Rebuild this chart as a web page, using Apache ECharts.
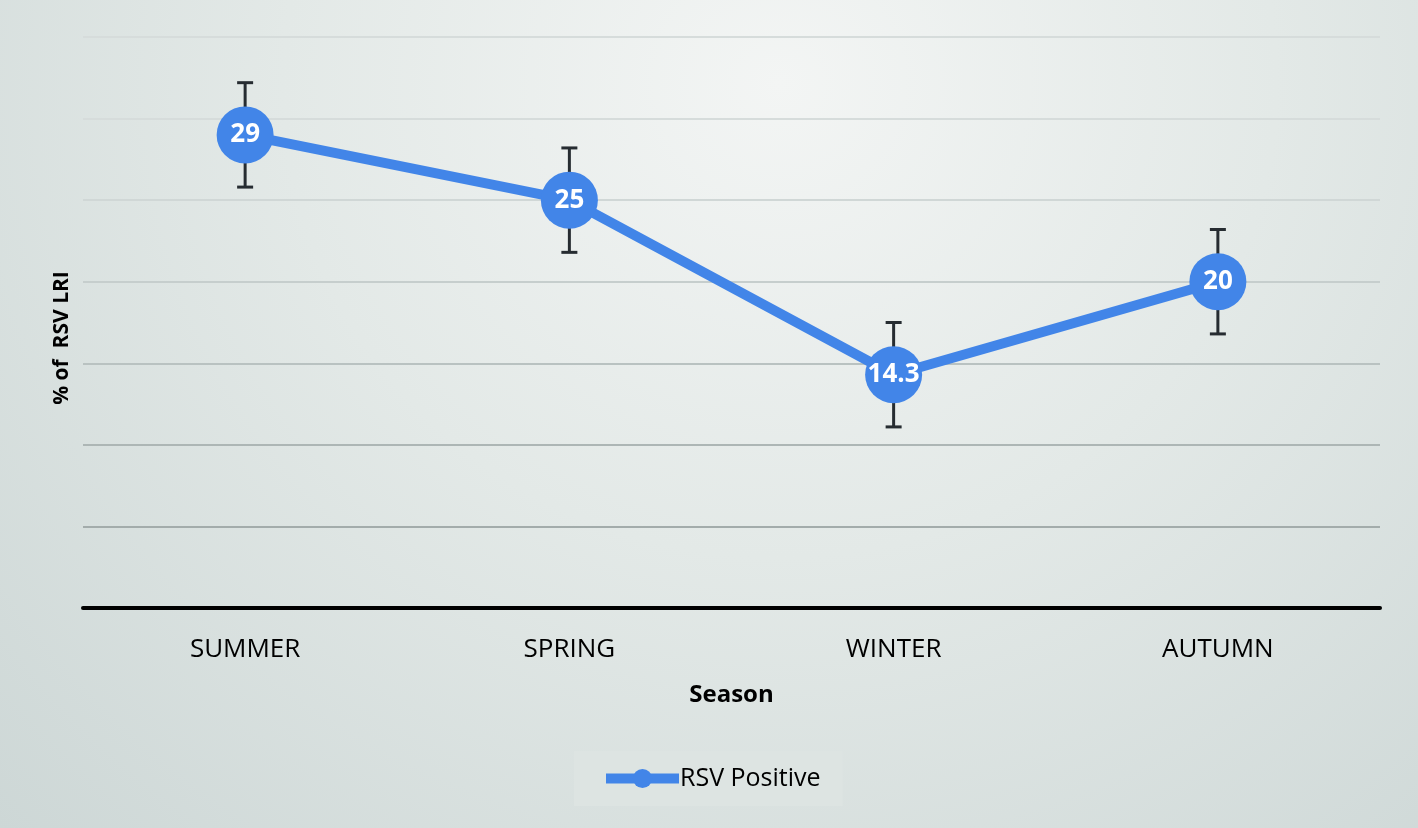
<!DOCTYPE html>
<html>
<head>
<meta charset="utf-8">
<script src="https://cdn.jsdelivr.net/npm/echarts@6/dist/echarts.min.js"></script>
<style>
html,body{margin:0;padding:0;}
#c{width:1418px;height:828px;background:radial-gradient(ellipse at 55% 10%, #f3f5f4 0%, #e3e9e7 45%, #cdd7d6 100%);}
</style>
</head>
<body>
<div id="c"></div>
<script>
var categories = ['SUMMER', 'SPRING', 'WINTER', 'AUTUMN'];
var values = [29, 25, 14.3, 20];
var errLow = [25.8, 21.8, 11.1, 16.8];
var errHigh = [32.2, 28.2, 17.5, 23.2];
var seriesName = 'RSV Positive';
var yAxisTitle = '% of  RSV LRI';
var xAxisTitle = 'Season';

var chart = echarts.init(document.getElementById('c'));
var gridColors = ['#9aa3a2', '#a3acab', '#adb6b5', '#b9c2c1', '#c6cecd', '#d0d7d6', '#d6dcdb', '#d6dcdb'];
var option = {
  backgroundColor: 'transparent',
  textStyle: {fontFamily: 'Open Sans'},
  grid: {left: 83, right: 38, top: 37, bottom: 220, containLabel: false},
  graphic: [{
    type: 'text',
    x: 62, y: 338,
    rotation: Math.PI / 2,
    style: {text: yAxisTitle, fontSize: 21, fontWeight: 'bold', fill: '#000', fontFamily: 'Open Sans', align: 'center', verticalAlign: 'middle'}
  }],
  xAxis: {
    type: 'category',
    data: categories,
    boundaryGap: true,
    name: xAxisTitle,
    nameLocation: 'middle',
    nameGap: 75,
    nameTextStyle: {fontSize: 24, fontWeight: 'bold', color: '#000', fontFamily: 'Open Sans'},
    axisLine: {lineStyle: {color: '#000', width: 4}},
    axisTick: {show: false},
    axisLabel: {fontSize: 26, color: '#000', margin: 29, fontFamily: 'Open Sans'}
  },
  yAxis: {
    type: 'value',
    min: 0, max: 35, interval: 5,
    axisLine: {show: false},
    axisTick: {show: false},
    axisLabel: {show: false},
    splitLine: {lineStyle: {color: gridColors, width: 2}}
  },
  legend: {
    top: 751,
    left: 574,
    data: [seriesName],
    backgroundColor: '#dde4e2',
    padding: [15, 22, 15, 27],
    itemWidth: 73,
    itemHeight: 24,
    itemGap: 0,
    lineStyle: {width: 10},
    textStyle: {fontSize: 25, color: '#000', fontFamily: 'Open Sans', padding: [0, 0, 0, -4]}
  },
  series: [
    {
      type: 'custom',
      name: 'err',
      data: categories.map(function (c, i) { return [i, errLow[i], errHigh[i]]; }),
      renderItem: function (params, api) {
        var x = api.value(0);
        var lo = api.coord([x, api.value(1)]);
        var hi = api.coord([x, api.value(2)]);
        var hw = 8;
        var st = {stroke: '#262c31', lineWidth: 3};
        return {
          type: 'group',
          children: [
            {type: 'line', shape: {x1: lo[0], y1: lo[1], x2: hi[0], y2: hi[1]}, style: st},
            {type: 'line', shape: {x1: lo[0]-hw, y1: lo[1], x2: lo[0]+hw, y2: lo[1]}, style: st},
            {type: 'line', shape: {x1: hi[0]-hw, y1: hi[1], x2: hi[0]+hw, y2: hi[1]}, style: st}
          ]
        };
      },
      z: 1
    },
    {
      type: 'line',
      name: seriesName,
      data: values,
      symbol: 'circle',
      symbolSize: 57,
      lineStyle: {color: '#4285e8', width: 10},
      itemStyle: {color: '#4285e8'},
      label: {show: true, position: 'inside', color: '#fff', fontSize: 26, fontWeight: 'bold', fontFamily: 'Open Sans'},
      z: 3
    }
  ]
};
chart.setOption(option);
</script>
</body>
</html>
